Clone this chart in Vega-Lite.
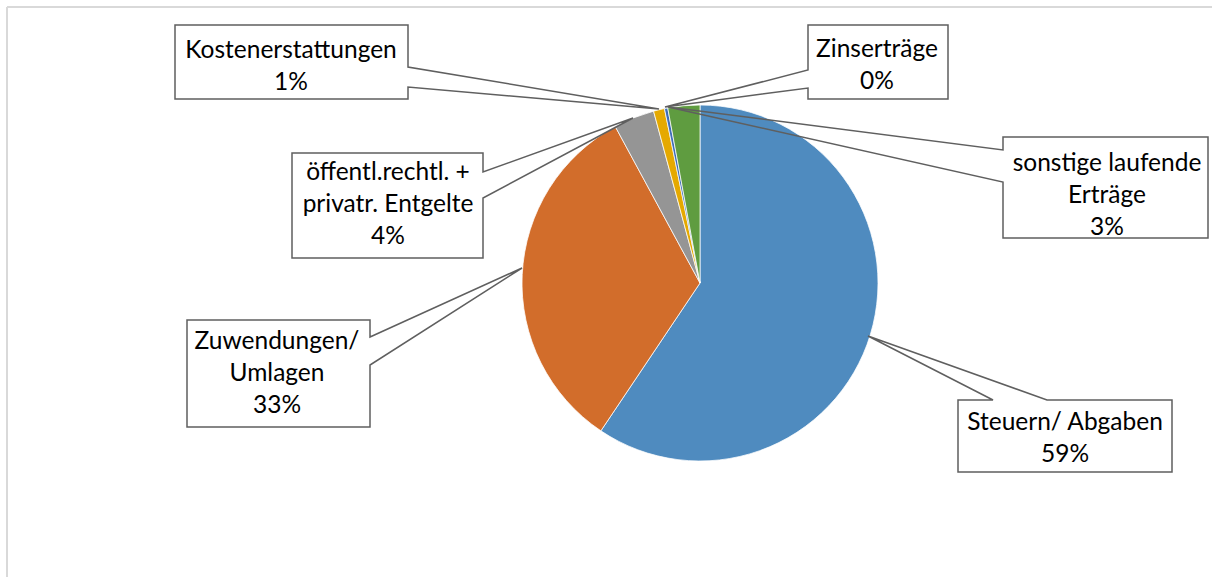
{
  "$schema": "https://vega.github.io/schema/vega-lite/v6.json",
  "autosize": {"type": "none"},
  "padding": {"left": 7, "top": 7, "right": 0, "bottom": 0},
  "width": 1205,
  "height": 570,
  "background": "#ffffff",
  "view": {"stroke": null},
  "config": {
    "text": {"font": "Lato", "fontSize": 24.5, "fill": "#000000", "lineHeight": 32, "lineBreak": "\n", "align": "center", "baseline": "middle"}
  },
  "data": {
    "values": [
      {"nr": 1, "kategorie": "Steuern/ Abgaben", "wert": 59.4, "label": "Steuern/ Abgaben\n59%"},
      {"nr": 2, "kategorie": "Zuwendungen/ Umlagen", "wert": 32.7, "label": "Zuwendungen/\nUmlagen\n33%"},
      {"nr": 3, "kategorie": "öffentl.rechtl. + privatr. Entgelte", "wert": 3.7, "label": "öffentl.rechtl. +\nprivatr. Entgelte\n4%"},
      {"nr": 4, "kategorie": "Kostenerstattungen", "wert": 1.0, "label": "Kostenerstattungen\n1%"},
      {"nr": 5, "kategorie": "Zinserträge", "wert": 0.3, "label": "Zinserträge\n0%"},
      {"nr": 6, "kategorie": "sonstige laufende Erträge", "wert": 2.9, "label": "sonstige laufende\nErträge\n3%"}
    ]
  },
  "layer": [
    {
      "data": {"values": [{"rahmen": "oben"}]},
      "mark": {"type": "rule", "color": "#d9d9d9", "strokeWidth": 2},
      "encoding": {"y": {"value": 0}}
    },
    {
      "data": {"values": [{"rahmen": "links"}]},
      "mark": {"type": "rule", "color": "#d9d9d9", "strokeWidth": 2},
      "encoding": {"x": {"value": 0}}
    },
    {
      "mark": {"type": "arc", "outerRadius": 178, "stroke": "#ffffff", "strokeWidth": 0.75, "xOffset": 90.5, "yOffset": -9},
      "encoding": {
        "theta": {"field": "wert", "type": "quantitative", "stack": true},
        "order": {"field": "nr", "type": "quantitative"},
        "color": {
          "field": "kategorie",
          "type": "nominal",
          "sort": null,
          "scale": {
            "domain": ["Steuern/ Abgaben", "Zuwendungen/ Umlagen", "öffentl.rechtl. + privatr. Entgelte", "Kostenerstattungen", "Zinserträge", "sonstige laufende Erträge"],
            "range": ["#4F8BBF", "#D26D2B", "#959595", "#E5A900", "#3F6DB8", "#5F9C40"]
          },
          "legend": null
        }
      }
    },
    {
      "mark": {"type": "point", "filled": false, "color": "#5f5f5f", "strokeWidth": 1.5, "opacity": 1, "size": 4, "xOffset": 90.5, "yOffset": -9},
      "encoding": {
        "shape": {
          "field": "kategorie",
          "type": "nominal",
          "sort": null,
          "scale": {
            "domain": ["Steuern/ Abgaben", "Zuwendungen/ Umlagen", "öffentl.rechtl. + privatr. Entgelte", "Kostenerstattungen", "Zinserträge", "sonstige laufende Erträge"],
            "range": [
              "M258,117H293L168,53L347,117H472V189H258Z",
              "M-513,37H-330V54L-178,-15L-330,82V144H-513Z",
              "M-408,-130H-217V-111L-67,-165L-217,-85V-25H-408Z",
              "M-525,-258H-292V-216L-41,-174L-292,-196V-184H-525Z",
              "M108,-258H248V-184H108V-195L-35,-176L108,-213Z",
              "M303,-146H508V-45H303V-101L-32,-176L303,-133Z"
            ]
          },
          "legend": null
        }
      }
    },
    {
      "layer": [
        {
          "mark": {"type": "text", "radius": 200, "xOffset": 90.5, "yOffset": -9, "dx": 173.7, "dy": 81.8},
          "encoding": {"text": {"condition": {"test": "datum.nr == 1", "field": "label"}, "value": ""}}
        },
        {
          "mark": {"type": "text", "radius": 200, "xOffset": 90.5, "yOffset": -9, "dx": -223.2, "dy": 68.4},
          "encoding": {"text": {"condition": {"test": "datum.nr == 2", "field": "label"}, "value": ""}}
        },
        {
          "mark": {"type": "text", "radius": 200, "xOffset": 90.5, "yOffset": -9, "dx": -237.8, "dy": 76.2},
          "encoding": {"text": {"condition": {"test": "datum.nr == 3", "field": "label"}, "value": ""}}
        },
        {
          "mark": {"type": "text", "radius": 200, "xOffset": 90.5, "yOffset": -9, "dx": -362.9, "dy": -37.4},
          "encoding": {"text": {"condition": {"test": "datum.nr == 4", "field": "label"}, "value": ""}}
        },
        {
          "mark": {"type": "text", "radius": 200, "xOffset": 90.5, "yOffset": -9, "dx": 215.1, "dy": -36.2},
          "encoding": {"text": {"condition": {"test": "datum.nr == 5", "field": "label"}, "value": ""}}
        },
        {
          "mark": {"type": "text", "radius": 200, "xOffset": 90.5, "yOffset": -9, "dx": 425.2, "dy": 80.2},
          "encoding": {"text": {"condition": {"test": "datum.nr == 6", "field": "label"}, "value": ""}}
        }
      ],
      "encoding": {
        "theta": {"field": "wert", "type": "quantitative", "stack": true},
        "order": {"field": "nr", "type": "quantitative"}
      }
    }
  ]
}
